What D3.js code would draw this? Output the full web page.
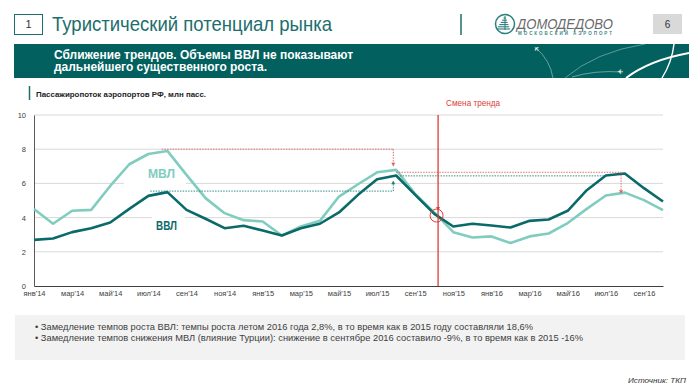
<!DOCTYPE html>
<html>
<head>
<meta charset="utf-8">
<script src="https://cdn.jsdelivr.net/npm/d3@7"></script>
<style>
  body { margin: 0; background: #fff; }
  svg { display: block; font-family: "Liberation Sans", Arial, sans-serif; }
</style>
</head>
<body>
<svg class="chart" width="689" height="387"></svg>
<script>
// months, one point per month
const months = ["янв'14","фев'14","мар'14","апр'14","май'14","июн'14","июл'14","авг'14","сен'14","окт'14","ноя'14","дек'14",
                "янв'15","фев'15","мар'15","апр'15","май'15","июн'15","июл'15","авг'15","сен'15","окт'15","ноя'15","дек'15",
                "янв'16","фев'16","мар'16","апр'16","май'16","июн'16","июл'16","авг'16","сен'16","окт'16"];
// international (МВЛ), mln pax
const mvl = [4.5, 3.64, 4.4, 4.45, 5.85, 7.12, 7.72, 7.9, 6.5, 5.14, 4.26, 3.85,
             3.77, 2.95, 3.48, 3.81, 5.23, 5.95, 6.65, 6.79, 5.38, 4.3, 3.15, 2.84,
             2.9, 2.51, 2.9, 3.07, 3.68, 4.51, 5.29, 5.46, 5.02, 4.44];
// domestic (ВВЛ), mln pax
const vvl = [2.7, 2.78, 3.15, 3.38, 3.71, 4.51, 5.27, 5.49, 4.45, 3.93, 3.38, 3.52,
             3.25, 2.95, 3.38, 3.64, 4.3, 5.33, 6.24, 6.46, 5.33, 4.22, 3.48, 3.64,
             3.54, 3.42, 3.81, 3.89, 4.4, 5.6, 6.46, 6.58, 5.72, 4.94];
const yTicks = [0, 2, 4, 6, 8, 10];
const xTicks = d3.range(0, months.length, 2);

// trend change marker (month index) and crossing value
const trendShift = 21.2;
const crossValue = 4.12;
// dotted guide lines: [from, to, level, arrow end level, kind]
const guides = [
  [6.7, 18.85, 8, 7.0, 'red'],
  [6.1, 18.85, 5.55, 6.15, 'teal'],
  [19.0, 30.8, 6.65, 5.4, 'red'],
  [19.2, 30.0, 6.44, null, 'teal']
];

const bullets = [
  "• Замедление  темпов роста ВВЛ: темпы роста летом 2016 года 2,8%, в то время как в 2015 году составляли 18,6%",
  "• Замедление  темпов снижения МВЛ (влияние Турции): снижение в сентябре 2016 составило -9%, в то время как в 2015 -16%"
];

const teal = '#0a6a69';
const light = '#80cdbf';
const red = '#dc3d36';

const svg = d3.select('.chart');

// ---- header ----
svg.append('rect').attr('x', 14.5).attr('y', 14.5).attr('width', 28).attr('height', 20)
  .attr('fill', 'none').attr('stroke', '#1d6e6d');
svg.append('text').attr('x', 28.5).attr('y', 28).attr('text-anchor', 'middle')
  .attr('font-size', 11).attr('fill', '#333').text('1');
svg.append('text').attr('x', 52).attr('y', 30.5).attr('font-size', 21).attr('fill', '#1d6e6d')
  .attr('textLength', 280).attr('lengthAdjust', 'spacingAndGlyphs')
  .text('Туристический потенциал рынка');
svg.append('line').attr('x1', 461).attr('x2', 461).attr('y1', 14).attr('y2', 35)
  .attr('stroke', '#1d6e6d').attr('stroke-width', 1.5);

// logo
const logo = svg.append('g');
logo.append('circle').attr('cx', 505).attr('cy', 24).attr('r', 9.5)
  .attr('fill', 'none').attr('stroke', '#2a7f7b').attr('stroke-width', 1.5);
d3.range(6).forEach(k => {
  const yy = 18 + k * 2.2, w = 1.5 + k * 1.4;
  logo.append('line').attr('x1', 505 - w).attr('x2', 505 + w * 0.6).attr('y1', yy).attr('y2', yy)
    .attr('stroke', '#2a7f7b').attr('stroke-width', 1.1);
});
logo.append('line').attr('x1', 505).attr('x2', 505).attr('y1', 16).attr('y2', 30)
  .attr('stroke', '#2a7f7b').attr('stroke-width', 1);
logo.append('text').attr('x', 517).attr('y', 28.5).attr('font-size', 14).attr('font-style', 'italic')
  .attr('fill', '#6a6a6a').attr('textLength', 96).attr('lengthAdjust', 'spacingAndGlyphs').text('ДОМОДЕДОВО');
logo.append('text').attr('x', 518).attr('y', 34.5).attr('font-size', 4.5).attr('font-weight', 'bold')
  .attr('fill', '#3a8b87').attr('textLength', 94).attr('lengthAdjust', 'spacing').text('МОСКОВСКИЙ АЭРОПОРТ');

svg.append('rect').attr('x', 653).attr('y', 14).attr('width', 29).attr('height', 20).attr('fill', '#d9d9d9');
svg.append('text').attr('x', 667.5).attr('y', 28).attr('text-anchor', 'middle')
  .attr('font-size', 10).attr('fill', '#333').text('6');

// ---- banner ----
svg.append('rect').attr('x', 14).attr('y', 44).attr('width', 675).attr('height', 34).attr('fill', '#02615f');
const deco = svg.append('g').attr('fill', 'none').attr('stroke', '#fff');
deco.append('path').attr('d', 'M536,48 Q550,60 553,78').attr('stroke-opacity', 0.5).attr('stroke-width', 0.8);
deco.append('path').attr('d', 'M565,78 Q595,52 645,44').attr('stroke-opacity', 0.45).attr('stroke-width', 0.8);
deco.append('path').attr('d', 'M572,77 Q595,70 622,72').attr('stroke-opacity', 0.5).attr('stroke-width', 0.8);
deco.append('path').attr('d', 'M626,78 Q650,60 689,53').attr('stroke-width', 2);
deco.append('path').attr('d', 'M674,44 Q672,62 662,78').attr('stroke-width', 1.4);
svg.append('text').attr('x', 533).attr('y', 52).attr('font-family', 'DejaVu Sans').attr('font-size', 7)
  .attr('fill', '#fff').attr('transform', 'rotate(-135,536,49)').text('✈');
svg.append('text').attr('x', 617).attr('y', 75).attr('font-family', 'DejaVu Sans').attr('font-size', 7)
  .attr('fill', '#fff').attr('transform', 'rotate(180,620,72)').text('✈');

svg.append('text').attr('x', 54).attr('y', 58.5).attr('font-size', 12).attr('font-weight', 'bold').attr('fill', '#fff')
  .attr('textLength', 299).attr('lengthAdjust', 'spacingAndGlyphs')
  .text('Сближение трендов. Объемы ВВЛ не показывают');
svg.append('text').attr('x', 54).attr('y', 71).attr('font-size', 12).attr('font-weight', 'bold').attr('fill', '#fff')
  .attr('textLength', 213).attr('lengthAdjust', 'spacingAndGlyphs')
  .text('дальнейшего существенного роста.');

// ---- chart ----
svg.append('line').attr('x1', 29.5).attr('x2', 29.5).attr('y1', 86).attr('y2', 100)
  .attr('stroke', '#1d6e6d').attr('stroke-width', 1.5);
svg.append('text').attr('x', 36).attr('y', 96.5).attr('font-size', 7.5).attr('font-weight', 'bold').attr('fill', '#222')
  .attr('textLength', 170).attr('lengthAdjust', 'spacingAndGlyphs')
  .text('Пассажиропоток  аэропортов  РФ, млн пасс.');

const x = d3.scaleLinear().domain([0, months.length - 1]).range([34, 663]);
const y = d3.scaleLinear().domain([0, 10]).range([286, 115]);

const g = svg.append('g');

g.append('g').selectAll('line').data(yTicks.filter(d => d > 0)).enter().append('line')
  .attr('x1', x(0)).attr('x2', x(months.length - 1))
  .attr('y1', d => y(d)).attr('y2', d => y(d))
  .attr('stroke', '#d9d9d9').attr('stroke-width', 1);

// white patches behind series labels
g.append('rect').attr('x', 124).attr('y', 160).attr('width', 62).attr('height', 26).attr('fill', '#fff');
g.append('rect').attr('x', 152).attr('y', 212).attr('width', 33).attr('height', 24).attr('fill', '#fff');

const yAxis = g.append('g').attr('transform', `translate(${x(0)},0)`)
  .call(d3.axisLeft(y).tickValues(yTicks).tickSize(0).tickSizeOuter(0).tickPadding(8));
yAxis.select('.domain').attr('stroke', '#595959');
yAxis.selectAll('text').attr('font-size', 7.5).attr('fill', '#404040').attr('font-family', 'Liberation Sans');

const xAxis = g.append('g').attr('transform', `translate(0,${y(0)})`)
  .call(d3.axisBottom(x).tickValues(xTicks).tickFormat(i => months[i]).tickSize(0).tickSizeOuter(0).tickPadding(5));
xAxis.select('.domain').attr('stroke', '#404040');
xAxis.selectAll('text').attr('font-size', 7.5).attr('fill', '#404040').attr('font-family', 'Liberation Sans');

const line = d3.line().x((d, i) => x(i)).y(d => y(d));
g.append('path').datum(mvl).attr('d', line).attr('fill', 'none')
  .attr('stroke', light).attr('stroke-width', 2.6).attr('stroke-linejoin', 'round');
g.append('path').datum(vvl).attr('d', line).attr('fill', 'none')
  .attr('stroke', teal).attr('stroke-width', 2.6).attr('stroke-linejoin', 'round');

g.append('text').attr('x', 148).attr('y', 177.5).attr('font-size', 12.5).attr('font-weight', 'bold')
  .attr('fill', light).attr('textLength', 27).attr('lengthAdjust', 'spacingAndGlyphs').text('МВЛ');
g.append('text').attr('x', 156).attr('y', 230).attr('font-size', 12.5).attr('font-weight', 'bold')
  .attr('fill', teal).attr('textLength', 21).attr('lengthAdjust', 'spacingAndGlyphs').text('ВВЛ');

// guides
const arrow = (gx, tipY, dir, color) => {
  g.append('path')
    .attr('d', `M${gx - 2},${tipY - 3.5 * dir} L${gx + 2},${tipY - 3.5 * dir} L${gx},${tipY} Z`)
    .attr('fill', color);
};
guides.forEach(([a, b, lvl, end, kind]) => {
  const color = kind === 'red' ? '#e0605a' : '#217f7c';
  g.append('line').attr('x1', x(a)).attr('x2', x(b)).attr('y1', y(lvl)).attr('y2', y(lvl))
    .attr('stroke', color).attr('stroke-width', 0.9).attr('stroke-dasharray', '1.5,1.2');
  if (end !== null) {
    g.append('line').attr('x1', x(b)).attr('x2', x(b)).attr('y1', y(lvl)).attr('y2', y(end))
      .attr('stroke', color).attr('stroke-width', 0.9).attr('stroke-dasharray', '1.5,1.2');
    arrow(x(b), y(end), end < lvl ? 1 : -1, color);
  }
});

// trend change
g.append('line').attr('x1', x(trendShift)).attr('x2', x(trendShift)).attr('y1', y(10)).attr('y2', y(0))
  .attr('stroke', red).attr('stroke-width', 1.3);
g.append('circle').attr('cx', x(trendShift) - 1.5).attr('cy', y(crossValue)).attr('r', 6.5)
  .attr('fill', 'none').attr('stroke', red).attr('stroke-width', 1);
arrow(x(trendShift), y(crossValue) - 5, 1, red);
g.append('text').attr('x', x(trendShift) + 8).attr('y', 105.5).attr('font-size', 8.5).attr('fill', red)
  .attr('textLength', 54).attr('lengthAdjust', 'spacingAndGlyphs').text('Смена тренда');

// ---- bottom notes ----
svg.append('rect').attr('x', 15).attr('y', 315).attr('width', 670).attr('height', 45).attr('fill', '#f2f2f2');
svg.selectAll('.note').data(bullets).enter().append('text')
  .attr('x', 35).attr('y', (d, i) => 329.5 + i * 11.7)
  .attr('font-size', 9).attr('fill', '#404040')
  .attr('textLength', (d, i) => i === 0 ? 498 : 548).attr('lengthAdjust', 'spacingAndGlyphs')
  .text(d => d);

svg.append('text').attr('x', 686).attr('y', 383).attr('text-anchor', 'end')
  .attr('font-size', 8).attr('font-style', 'italic').attr('fill', '#333')
  .attr('textLength', 58).attr('lengthAdjust', 'spacingAndGlyphs').text('Источник:  ТКП');
</script>
</body>
</html>
